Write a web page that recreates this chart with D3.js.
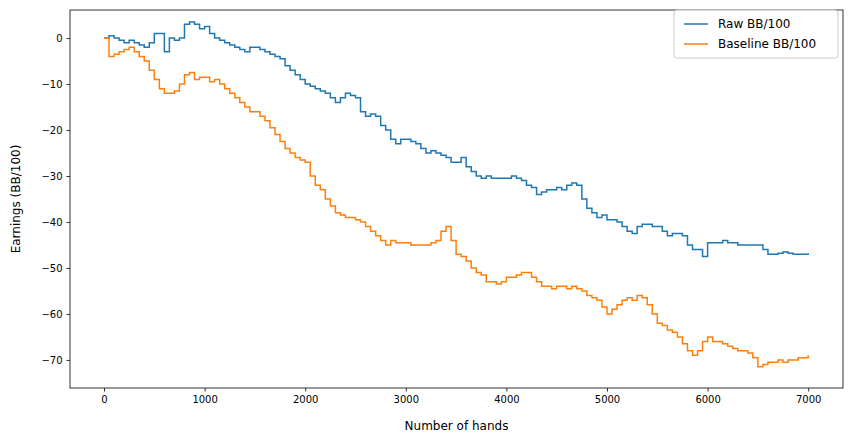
<!DOCTYPE html>
<html><head><meta charset="utf-8">
<script src="https://cdn.jsdelivr.net/npm/d3@7"></script>
<style>body{margin:0;background:#fff}text{font-family:"DejaVu Sans",sans-serif}</style>
</head><body><svg id="c" width="853" height="442"></svg>
<script>
const hands=[0,50,100,150,200,250,300,350,400,450,500,550,600,650,700,750,800,850,900,950,1000,1050,1100,1150,1200,1250,1300,1350,1400,1450,1500,1550,1600,1650,1700,1750,1800,1850,1900,1950,2000,2050,2100,2150,2200,2250,2300,2350,2400,2450,2500,2550,2600,2650,2700,2750,2800,2850,2900,2950,3000,3050,3100,3150,3200,3250,3300,3350,3400,3450,3500,3550,3600,3650,3700,3750,3800,3850,3900,3950,4000,4050,4100,4150,4200,4250,4300,4350,4400,4450,4500,4550,4600,4650,4700,4750,4800,4850,4900,4950,5000,5050,5100,5150,5200,5250,5300,5350,5400,5450,5500,5550,5600,5650,5700,5750,5800,5850,5900,5950,6000,6050,6100,6150,6200,6250,6300,6350,6400,6450,6500,6550,6600,6650,6700,6750,6800,6850,6900,6950,7000];
const raw=[0,0.5,0,-0.5,-1,-0.5,-1,-1.5,-2,-1,1,1,-3,0,-0.5,0,3,3.5,3,2,2.5,1,0,-0.5,-1,-1.5,-2,-2.5,-3,-2,-2,-2.5,-3,-3.5,-4,-4.5,-6,-7,-8,-9,-10,-10.5,-11,-11.5,-12,-13,-14,-13,-12,-12.5,-13,-16,-17,-16.5,-17,-19,-20,-22,-23,-22,-22,-22.5,-23,-24,-25,-24.5,-25,-25.5,-26,-27,-27,-26,-28,-29,-30,-30.5,-30,-30.5,-30.5,-30.5,-30.5,-30,-30.5,-31,-32,-32.5,-34,-33.5,-33,-33,-32.5,-33,-32,-31.5,-32,-35,-37,-38,-39,-38.5,-39.5,-39.5,-40,-41,-42,-42.5,-41,-40.5,-40.5,-41,-41,-42,-43,-42.5,-42.5,-43,-45,-46,-46,-47.5,-44.5,-44.5,-44.5,-44,-44.5,-44.5,-45,-45,-45,-45,-45,-46,-47,-47,-46.8,-46.5,-46.8,-47,-47,-47,-46.8,-47,-47];
const base=[0,-4,-3.5,-3,-2.5,-2,-3,-4,-5,-7,-9,-11,-12,-12,-11.5,-10,-8,-7.5,-9,-8.5,-8.5,-9.5,-9,-10,-11,-12,-13,-14,-15,-16,-16,-17,-18,-19.5,-21,-22.5,-24,-25,-26,-26.5,-27,-30,-32,-33,-35,-36.5,-38,-38.5,-39,-39,-39.5,-40,-41,-42,-43,-44,-45,-44,-44.5,-44.5,-44.5,-45,-45,-45,-45,-44.5,-44,-42,-41,-44,-47,-47.5,-48.5,-50,-51,-51.5,-53,-53,-53.5,-53,-52,-52,-51.5,-51,-51,-52,-53,-54,-54,-54.5,-54,-54,-54.5,-54,-54.5,-55,-56,-56.5,-57,-58.5,-60,-59,-58,-57,-56.5,-57,-56,-56.5,-58,-60,-62,-62.5,-63.5,-64,-65,-66.5,-68,-69,-68,-66,-65,-66,-66,-66.5,-67,-67.5,-68,-68,-68.5,-69.5,-71.5,-71,-70.5,-70.5,-70,-70.5,-70,-70,-69.5,-69.5,-69];
const xTicks=[0,1000,2000,3000,4000,5000,6000,7000];
const yTicks=[0,-10,-20,-30,-40,-50,-60,-70];
const svg=d3.select("#c");
const L=70,R=843,T=10,B=388;
const x=d3.scaleLinear().domain([-338,7346]).range([L,R]);
const y=d3.scaleLinear().domain([-76.1,6.1]).range([B,T]);
const gx=svg.append("g").attr("transform",`translate(0,${B})`).call(d3.axisBottom(x).tickValues(xTicks).tickSize(3.5).tickPadding(4).tickFormat(d3.format("d")));
const gy=svg.append("g").attr("transform",`translate(${L},0)`).call(d3.axisLeft(y).tickValues(yTicks).tickSize(3.5).tickPadding(4).tickFormat(d=>d<0?"−"+(-d):d));
[gx,gy].forEach(g=>{g.select(".domain").remove();g.selectAll("text").attr("font-size",10).attr("fill","#000");g.selectAll("line").attr("stroke","#000").attr("stroke-width",0.8);});
const line=d3.line().x((d,i)=>x(hands[i])).y(d=>y(d)).curve(d3.curveStepAfter);
svg.append("path").attr("d",line(raw)).attr("fill","none").attr("stroke","#1f77b4").attr("stroke-width",1.5);
svg.append("path").attr("d",line(base)).attr("fill","none").attr("stroke","#ff7f0e").attr("stroke-width",1.5);
svg.append("rect").attr("x",L).attr("y",T).attr("width",R-L).attr("height",B-T).attr("fill","none").attr("stroke","#000").attr("stroke-width",0.8);
svg.append("text").attr("x",(L+R)/2).attr("y",430).attr("text-anchor","middle").attr("font-size",12).text("Number of hands");
svg.append("text").attr("transform",`translate(20,${(T+B)/2}) rotate(-90)`).attr("text-anchor","middle").attr("font-size",12).text("Earnings (BB/100)");
const lg=svg.append("g");
lg.append("rect").attr("x",674).attr("y",10).attr("width",164).attr("height",48).attr("rx",3).attr("fill","#fff").attr("fill-opacity",0.8).attr("stroke","#ccc");
[["Raw BB/100","#1f77b4",24],["Baseline BB/100","#ff7f0e",44]].forEach(([t,c,yy])=>{
 lg.append("line").attr("x1",684).attr("x2",708).attr("y1",yy).attr("y2",yy).attr("stroke",c).attr("stroke-width",1.5);
 lg.append("text").attr("x",718).attr("y",yy+4).attr("font-size",12).text(t);
});
</script></body></html>
